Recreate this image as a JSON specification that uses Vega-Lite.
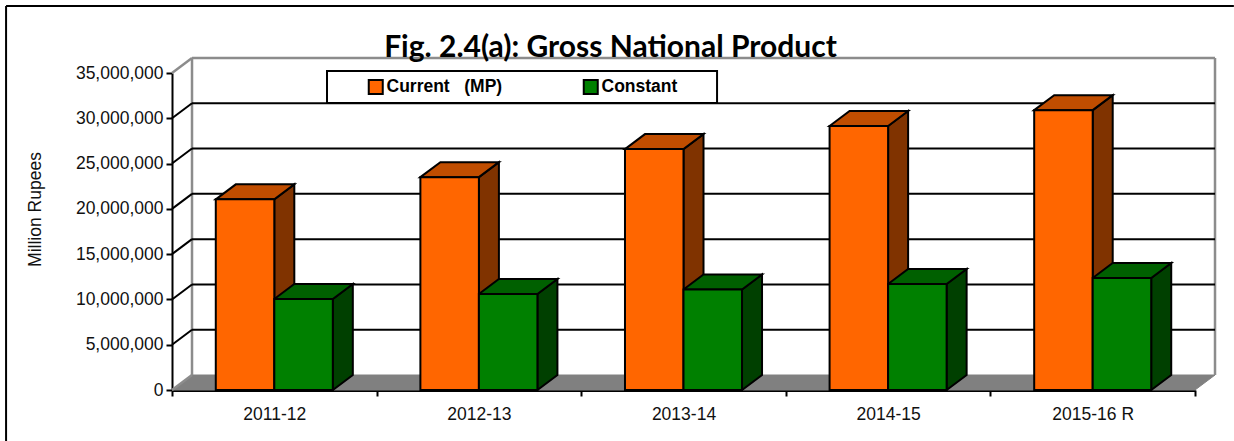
{
"$schema":"https://vega.github.io/schema/vega-lite/v6.json",
"width":1023,"height":317,
"autosize":{"type":"none"},
"padding":{"left":172,"top":73,"right":39,"bottom":51},
"background":"white",
"title":{"text":"Fig. 2.4(a): Gross National Product","font":"Lato","fontWeight":"bold","fontSize":30,"color":"black","anchor":"middle","frame":"group","dx":-73,"offset":-58},
"datasets":{
"bars":[
{"period":"2011-12","series":"Current \u00a0 (MP)","value":21050000},
{"period":"2012-13","series":"Current \u00a0 (MP)","value":23500000},
{"period":"2013-14","series":"Current \u00a0 (MP)","value":26600000},
{"period":"2014-15","series":"Current \u00a0 (MP)","value":29150000},
{"period":"2015-16 R","series":"Current \u00a0 (MP)","value":30900000},
{"period":"2011-12","series":"Constant","value":10050000},
{"period":"2012-13","series":"Constant","value":10600000},
{"period":"2013-14","series":"Constant","value":11100000},
{"period":"2014-15","series":"Constant","value":11700000},
{"period":"2015-16 R","series":"Constant","value":12370000}
],
"grid":[{"tick":5000000},{"tick":10000000},{"tick":15000000},{"tick":20000000},{"tick":25000000},{"tick":30000000}]
},
"layer":[
{"mark":{"type":"rule","color":"black","strokeWidth":2,"clip":false},"data":{"values":[{"a":-0.811,"b":-0.811,"c":42400000,"d":-5630000},{"a":-0.811,"b":5.19,"c":42400000,"d":42400000}]},
 "encoding":{"x":{"field":"a","type":"quantitative","scale":{"domain":[0,5],"nice":false,"zero":false},
   "axis":{"title":null,"values":[0,0.5,1,1.5,2,2.5,3,3.5,4,4.5,5],"labelExpr":"datum.value%1 ? ['2011-12','2012-13','2013-14','2014-15','2015-16 R'][floor(datum.value)] : ''","tickOpacity":{"condition":{"test":"datum.value%1!==0","value":0},"value":1},"grid":false,"domainColor":"black","domainWidth":3,"tickColor":"black","tickWidth":2,"tickSize":6,"labelFontSize":17.5,"labelFont":"Liberation Sans","labelColor":"#111","labelPadding":9,"labelOverlap":false,"labelFlush":false,"labelAngle":0}},
   "x2":{"field":"b"},
   "y":{"field":"c","type":"quantitative","scale":{"domain":[0,35000000],"nice":false,"zero":true},
   "axis":{"title":"Million Rupees","titleFont":"Liberation Sans","titleFontWeight":"normal","titleFontSize":17.5,"titleColor":"#111","titleX":-128,"titleY":136,"titleAngle":270,"values":[0,5000000,10000000,15000000,20000000,25000000,30000000,35000000],"format":",d","grid":false,"domainColor":"black","domainWidth":2,"tickColor":"black","tickWidth":2,"tickSize":6,"labelFontSize":17.5,"labelFont":"Liberation Sans","labelColor":"#111","labelPadding":3}},
   "y2":{"field":"d"}}},
{"mark":{"type":"area","fill":"#808080","stroke":"#808080","strokeWidth":1,"clip":false},
 "data":{"values":[{"fx":0,"fl":0,"fh":0},{"fx":0.0978,"fl":0,"fh":1656000},{"fx":5,"fl":0,"fh":1656000},{"fx":5.0978,"fl":1656000,"fh":1656000}]},
 "encoding":{"x":{"field":"fx","type":"quantitative"},"y":{"field":"fl","type":"quantitative"},"y2":{"field":"fh"}}},
{"mark":{"type":"rule","color":"#8c8c8c","strokeWidth":2.5,"clip":false},
 "data":{"values":[{"a":0.0978,"b":0.0978,"c":1656000,"d":36656000},{"a":5.0978,"b":5.0978,"c":1656000,"d":36656000},{"a":0.0978,"b":5.0978,"c":36656000,"d":36656000},{"a":0,"b":0.0978,"c":35000000,"d":36656000},{"a":0,"b":0.0978,"c":0,"d":1656000}]},
 "encoding":{"x":{"field":"a","type":"quantitative"},"x2":{"field":"b"},"y":{"field":"c","type":"quantitative"},"y2":{"field":"d"}}},
{"data":{"name":"grid"},"transform":[{"calculate":"datum.tick+1656000","as":"back"},{"calculate":"0","as":"x0"},{"calculate":"0.0978","as":"x1"},{"calculate":"5.0978","as":"x2"}],
 "layer":[
 {"mark":{"type":"rule","color":"black","strokeWidth":2,"clip":false},"encoding":{"x":{"field":"x0","type":"quantitative"},"x2":{"field":"x1"},"y":{"field":"tick","type":"quantitative"},"y2":{"field":"back"}}},
 {"mark":{"type":"rule","color":"black","strokeWidth":2,"clip":false},"encoding":{"x":{"field":"x1","type":"quantitative"},"x2":{"field":"x2"},"y":{"field":"back","type":"quantitative"}}}
 ]},
{"mark":{"type":"rect","fill":"white","stroke":"black","strokeWidth":2,"clip":false},"data":{"values":[{"a":0.7576,"b":2.664,"c":35220000,"d":31690000}]},
 "encoding":{"x":{"field":"a","type":"quantitative"},"x2":{"field":"b"},"y":{"field":"c","type":"quantitative"},"y2":{"field":"d"}}},
{"data":{"name":"bars"},
 "transform":[
 {"calculate":"indexof(['2011-12','2012-13','2013-14','2014-15','2015-16 R'],datum.period)","as":"idx"},
 {"calculate":"datum.idx+(datum.series==='Constant'?0.5:0.214)","as":"xa"},
 {"calculate":"datum.xa+0.286","as":"xb"},
 {"calculate":"datum.period+datum.series","as":"key"}
 ],
 "layer":[
 {"transform":[
   {"calculate":"[datum.xb,datum.xb+0.0978]","as":"sx"},
   {"calculate":"[datum.value,datum.value+1656000]","as":"sh"},
   {"calculate":"[0,1656000]","as":"sl"},
   {"flatten":["sx","sh","sl"]}],
  "mark":{"type":"area","stroke":"black","strokeWidth":2,"clip":false},
  "encoding":{"x":{"field":"sx","type":"quantitative"},"y":{"field":"sh","type":"quantitative"},"y2":{"field":"sl"},"detail":{"field":"key"},
   "fill":{"condition":{"test":"datum.series==='Constant'","value":"#004000"},"value":"#803300"}}},
 {"transform":[
   {"calculate":"[datum.xa,datum.xa+0.0978,datum.xb,datum.xb+0.0978]","as":"tx"},
   {"calculate":"[datum.value,datum.value,datum.value,datum.value+1656000]","as":"tl"},
   {"calculate":"[datum.value,datum.value+1656000,datum.value+1656000,datum.value+1656000]","as":"th"},
   {"flatten":["tx","tl","th"]}],
  "mark":{"type":"area","stroke":"black","strokeWidth":2,"clip":false},
  "encoding":{"x":{"field":"tx","type":"quantitative"},"y":{"field":"th","type":"quantitative"},"y2":{"field":"tl"},"detail":{"field":"key"},
   "fill":{"condition":{"test":"datum.series==='Constant'","value":"#006000"},"value":"#c04d00"}}},
 {"mark":{"type":"rect","stroke":"black","strokeWidth":2,"clip":false},
  "encoding":{"x":{"field":"xa","type":"quantitative"},"x2":{"field":"xb"},"y":{"field":"value","type":"quantitative"},"y2":{"datum":0},
   "color":{"field":"series","type":"nominal","sort":null,"scale":{"domain":["Current \u00a0 (MP)","Constant"],"range":["#ff6600","#008000"]},
    "legend":{"title":null,"orient":"none","legendX":188,"legendY":-2,"direction":"horizontal","symbolType":"square","symbolSize":196,"symbolStrokeColor":"black","symbolStrokeWidth":2,"symbolOpacity":1,"labelFont":"Liberation Sans","labelFontWeight":"bold","labelFontSize":17.5,"labelColor":"black","padding":7,"columnPadding":76,"labelOffset":2,"zindex":2}}}}
 ]}
],
"config":{"view":{"stroke":null}}
}
